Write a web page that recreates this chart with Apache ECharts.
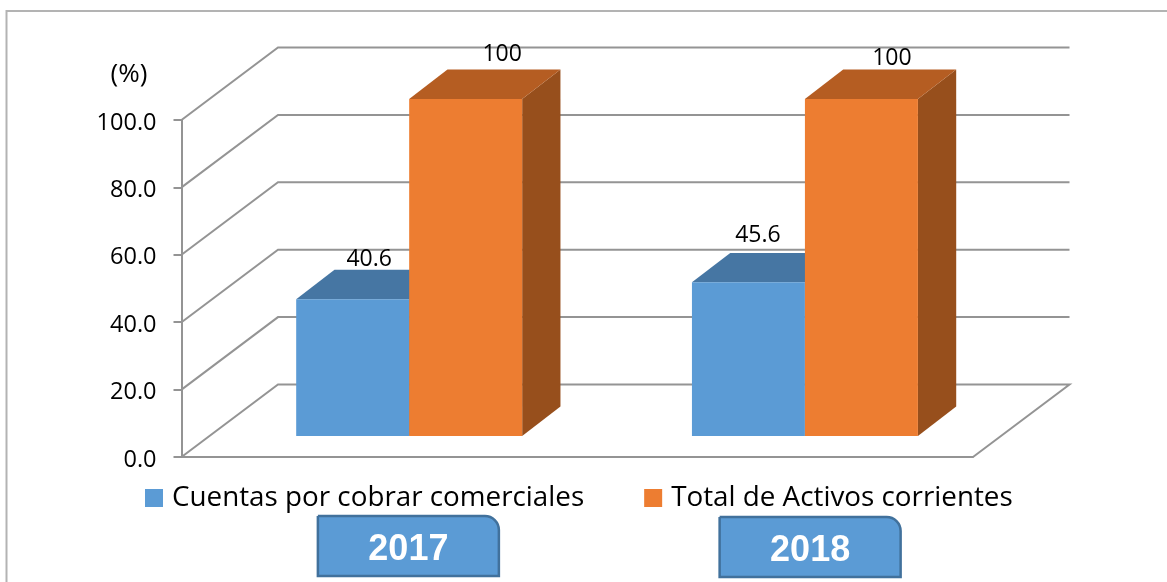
<!DOCTYPE html>
<html>
<head>
<meta charset="utf-8">
<title>Cuentas por cobrar comerciales</title>
<style>
  html, body { margin: 0; padding: 0; background: #fff; }
  #chart { width: 1167px; height: 582px; }
</style>
<script src="https://cdn.jsdelivr.net/npm/echarts@6/dist/echarts.min.js"></script>
</head>
<body>
<div id="chart"></div>
<script>
const categories = ['2017', '2018']
const cuentas = [40.6, 45.6]
const activos = [100, 100]
const yTicks = [0, 20, 40, 60, 80, 100]

const font = '"Open Sans"'
const gridColor = '#949494'

// 3d projection of the box, in pixels
const wallDx = 96.5
const wallDy = 72.5
const barDx = 38.3
const barDy = 29.4
const barShiftX = 29.8
const barShiftY = 21
const barRatio = 0.2855

const chart = echarts.init(document.getElementById('chart'), undefined, { renderer: 'canvas' })

const renderWall = (params, api) => {
  const tick = api.value(1)
  const [x0, y] = api.coord([0, tick])
  const left = params.coordSys.x
  const right = left + params.coordSys.width
  const points = [[left, y], [left + wallDx, y - wallDy], [right + wallDx, y - wallDy]]
  if (tick === 0) points.push([right, y])
  return {
    type: 'polyline',
    shape: { points },
    style: { fill: null, stroke: gridColor, lineWidth: 2 }
  }
}

const renderBar = (side, colors, labelShift) => (params, api) => {
  const i = api.value(0)
  const v = api.value(1)
  const width = api.size([1, 0])[0] * barRatio
  const [cx, y0] = api.coord([i, 0])
  const yv = api.coord([i, v])[1]
  const x1 = cx + barShiftX + (side < 0 ? -width : 0)
  const x2 = x1 + width
  const bottom = y0 - barShiftY
  const top = yv - barShiftY
  const poly = (points, fill) => ({ type: 'polygon', shape: { points }, style: { fill } })
  return {
    type: 'group',
    children: [
      poly([[x2, bottom], [x2 + barDx, bottom - barDy], [x2 + barDx, top - barDy], [x2, top]], colors.side),
      poly([[x1, top], [x2, top], [x2 + barDx, top - barDy], [x1 + barDx, top - barDy]], colors.top),
      poly([[x1, bottom], [x2, bottom], [x2, top], [x1, top]], colors.front),
      {
        type: 'text',
        z2: 10,
        style: {
          x: x1 + labelShift[i][0],
          y: top - barDy + labelShift[i][1],
          text: String(v),
          fill: '#000',
          font: `23px ${font}`,
          align: 'center',
          verticalAlign: 'middle'
        }
      }
    ]
  }
}

const yearBoxShift = [[29, 90], [35, 91]]

const renderYearBox = (params, api) => {
  const i = api.value(0)
  const [cx, y0] = api.coord([i, 0])
  const x = cx + yearBoxShift[i][0] - 90.5
  const y = y0 + yearBoxShift[i][1] - 31
  return {
    type: 'group',
    children: [
      {
        type: 'rect',
        shape: { x, y, width: 181, height: 60, r: [0, 14, 0, 0] },
        style: { fill: '#5b9bd5', stroke: '#41719c', lineWidth: 2.5 }
      },
      {
        type: 'text',
        style: {
          x: x + 90.5,
          y: y + 34,
          text: categories[i],
          fill: '#fff',
          font: 'bold 36px "Liberation Sans"',
          align: 'center',
          verticalAlign: 'middle'
        }
      }
    ]
  }
}

const option = {
  animation: false,
  backgroundColor: '#fff',
  grid: { left: 181.5, right: 194, top: 120, bottom: 125 },
  xAxis: {
    type: 'category',
    data: categories,
    axisLine: { show: true, lineStyle: { color: gridColor, width: 2 } },
    axisTick: { show: false },
    axisLabel: { show: false },
    splitLine: { show: false }
  },
  yAxis: {
    type: 'value',
    min: 0,
    max: 100,
    interval: 20,
    axisLine: { show: true, lineStyle: { color: gridColor, width: 2 } },
    axisTick: { show: true, length: 8, lineStyle: { color: gridColor, width: 2 } },
    axisLabel: {
      margin: 25,
      fontFamily: font,
      fontSize: 23.5,
      color: '#000',
      verticalAlign: 'top',
      lineHeight: 6,
      formatter: v => v.toFixed(1)
    },
    splitLine: { show: false }
  },
  legend: {
    left: 145,
    top: 484,
    padding: 0,
    itemWidth: 18,
    itemHeight: 18,
    itemGap: 60,
    icon: 'rect',
    textStyle: { fontFamily: font, fontSize: 27.8, color: '#000', padding: [0, 0, 0, 4] },
    data: ['Cuentas por cobrar comerciales', 'Total de Activos corrientes']
  },
  graphic: [
    {
      type: 'polyline',
      shape: { points: [[6.5, 582], [6.5, 11], [1167, 11]] },
      style: { fill: null, stroke: '#b3b3b3', lineWidth: 2 }
    },
    {
      type: 'text',
      style: { x: 129, y: 75, text: '(%)', fill: '#000', font: `26px ${font}`, align: 'center', verticalAlign: 'middle' }
    }
  ],
  series: [
    {
      type: 'custom',
      name: 'pared',
      silent: true,
      renderItem: renderWall,
      data: yTicks.map(t => [0, t])
    },
    {
      type: 'custom',
      name: 'Cuentas por cobrar comerciales',
      itemStyle: { color: '#5b9bd5' },
      renderItem: renderBar(-1, { front: '#5b9bd5', top: '#4676a3', side: '#3f6b94' }, [[73, -10.5], [66, -17.5]]),
      data: cuentas.map((v, i) => [i, v])
    },
    {
      type: 'custom',
      name: 'Total de Activos corrientes',
      itemStyle: { color: '#ed7d31' },
      renderItem: renderBar(1, { front: '#ed7d31', top: '#b55d22', side: '#974f1c' }, [[93, -15], [87, -11]]),
      data: activos.map((v, i) => [i, v])
    },
    {
      type: 'custom',
      name: 'anios',
      silent: true,
      renderItem: renderYearBox,
      data: categories.map((c, i) => [i, 0])
    }
  ]
}

chart.setOption(option)
</script>
</body>
</html>
